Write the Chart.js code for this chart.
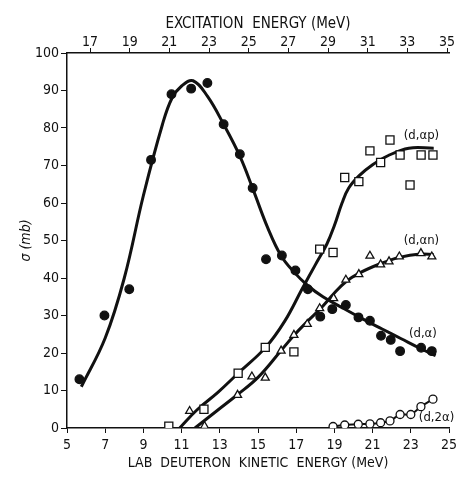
<!DOCTYPE html>
<html>
<head>
<meta charset="utf-8">
<script src="https://cdn.jsdelivr.net/npm/chart.js@4/dist/chart.umd.min.js"></script>
<style>
  body { margin: 0; background: #fff; }
  #wrap { width: 458px; height: 479px; }
</style>
</head>
<body>
<div id="wrap"><canvas id="chart"></canvas></div>
<script>
// axis ticks
const labTicks = [5, 7, 9, 11, 13, 15, 17, 19, 21, 23, 25];
const excTicks = [17, 19, 21, 23, 25, 27, 29, 31, 33, 35];
const excRange = [15.84, 35.1]; // excitation energy at lab 5 and 25 MeV

// measured points [lab energy, sigma]
const dAlpha = [[5.65, 13], [6.96, 30], [8.26, 37], [9.4, 71.5], [10.47, 89], [11.5, 90.5],
  [12.35, 92], [13.2, 81], [14.05, 73], [14.72, 64], [15.42, 45], [16.25, 46], [16.96, 42],
  [17.61, 37], [18.26, 29.7], [18.89, 31.7], [19.6, 32.8], [20.26, 29.5], [20.86, 28.6],
  [21.44, 24.6], [21.95, 23.5], [22.44, 20.5], [23.54, 21.4], [24.1, 20.5]];
const dAlphaP = [[10.33, 0.5], [12.17, 5], [13.96, 14.6], [15.38, 21.5], [16.88, 20.3],
  [18.23, 47.7], [18.93, 46.8], [19.54, 66.8], [20.28, 65.7], [20.86, 73.9], [21.42, 70.8],
  [21.91, 76.8], [22.44, 72.8], [22.96, 64.8], [23.54, 72.8], [24.16, 72.8]];
const dAlphaN = [[11.42, 4.5], [12.2, 0.5], [13.93, 8.8], [14.68, 13.7], [15.38, 13.4],
  [16.21, 20.6], [16.88, 24.8], [17.58, 27.7], [18.23, 31.9], [18.96, 34.6], [19.6, 39.5],
  [20.28, 41], [20.86, 45.9], [21.42, 43.6], [21.86, 44.4], [22.4, 45.7], [23.53, 46.6],
  [24.1, 45.7]];
const d2Alpha = [[18.93, 0.4], [19.54, 0.8], [20.25, 1.0], [20.86, 1.1], [21.42, 1.4],
  [21.91, 1.9], [22.44, 3.6], [23.0, 3.6], [23.53, 5.7], [24.16, 7.7]];

// hand-drawn fitted curves
const curveAlpha = [[5.75, 11], [7, 24], [8, 40], [9, 62], [10, 81], [10.5, 88], [11, 91.2],
  [11.6, 92.6], [12.35, 88.5], [13.2, 81], [14.05, 72.5], [14.75, 63.5], [15.5, 53.5],
  [16.2, 46], [16.9, 41.5], [17.6, 38], [18.4, 35], [19.4, 32.1], [20.4, 29.3], [21.5, 26.4],
  [22.5, 23.8], [23.5, 21.2], [24.3, 19.3]];
const curveAlphaP = [[10.9, 0], [11.8, 4.8], [12.9, 9.5], [13.96, 14.6], [15.4, 21.5],
  [16.4, 28.5], [17.3, 37], [18, 43.5], [18.6, 49], [19, 54], [19.4, 60], [19.75, 64],
  [20.3, 67.3], [21, 70.2], [21.8, 72.6], [22.9, 74.6], [24.2, 74.6]];
const curveAlphaN = [[11.7, 0], [12.9, 4.8], [13.9, 8.8], [15, 13.5], [16.2, 20.6],
  [16.9, 24.8], [17.6, 28.5], [18.3, 32], [19, 36], [19.6, 39], [20.3, 41.3], [21.4, 43.8],
  [22.4, 45.5], [23.5, 46.4], [24.2, 46.2]];

// curve labels [text, lab energy, sigma]
const curveLabels = [['(d,\u03b1p)', 22.63, 78], ['(d,\u03b1n)', 22.63, 50],
  ['(d,\u03b1)', 22.9, 25.3], ['(d,2\u03b1)', 23.42, 2.7]];

const pts = arr => arr.map(p => ({ x: p[0], y: p[1] }));
const font = 'DejaVu Sans Condensed, DejaVu Sans, sans-serif';
const ink = '#111';

function curve(data) {
  return { data: pts(data), showLine: true, pointRadius: 0, borderColor: ink,
    borderWidth: 3, tension: 0.4, order: 2 };
}
function marks(data, style, r, filled) {
  return { data: pts(data), showLine: false, pointStyle: style, pointRadius: r,
    pointBorderColor: ink, pointBackgroundColor: filled ? ink : '#fff',
    pointBorderWidth: 1.3, order: 1 };
}
function noSidePad(s, h) {
  s.height = h;
  s.paddingLeft = 0;
  s.paddingRight = 0;
}

const labelPlugin = {
  id: 'curveLabels',
  afterDatasetsDraw(chart) {
    const { ctx, scales } = chart;
    ctx.save();
    ctx.fillStyle = ink;
    ctx.font = '13px ' + font;
    ctx.textBaseline = 'middle';
    curveLabels.forEach(l => {
      ctx.fillText(l[0], scales.x.getPixelForValue(l[1]), scales.y.getPixelForValue(l[2]));
    });
    ctx.restore();
  }
};

const twoAlpha = marks(d2Alpha, 'circle', 4, false);
twoAlpha.showLine = true;
twoAlpha.borderColor = ink;
twoAlpha.borderWidth = 2;
twoAlpha.tension = 0.3;

new Chart(document.getElementById('chart'), {
  type: 'scatter',
  data: {
    datasets: [
      curve(curveAlpha), curve(curveAlphaP), curve(curveAlphaN),
      marks(dAlpha, 'circle', 4.3, true),
      marks(dAlphaP, 'rect', 5.7, false),
      marks(dAlphaN, 'triangle', 4.6, false),
      twoAlpha
    ]
  },
  options: {
    responsive: true,
    maintainAspectRatio: false,
    animation: false,
    layout: { padding: { right: 9 } },
    plugins: { legend: { display: false }, tooltip: { enabled: false } },
    scales: {
      x: {
        type: 'linear', position: 'bottom', min: 5, max: 25,
        afterBuildTicks: s => { s.ticks = labTicks.map(v => ({ value: v })); },
        afterFit: s => noSidePad(s, 51),
        border: { color: ink, width: 1.5 },
        grid: { drawOnChartArea: false, tickLength: 5, color: ink },
        ticks: { color: ink, font: { family: font, size: 14 }, padding: 4, maxRotation: 0 },
        title: { display: true, text: 'LAB  DEUTERON  KINETIC  ENERGY (MeV)', color: ink,
          font: { family: font, size: 14 }, padding: { top: 2, bottom: 7 } }
      },
      top: {
        type: 'linear', position: 'top', min: excRange[0], max: excRange[1],
        afterBuildTicks: s => { s.ticks = excTicks.map(v => ({ value: v })); },
        afterFit: s => noSidePad(s, 53),
        border: { color: ink, width: 1.5 },
        grid: { drawOnChartArea: false, tickLength: 5, color: ink },
        ticks: { color: ink, font: { family: font, size: 14 }, padding: -3, maxRotation: 0 },
        title: { display: true, text: 'EXCITATION  ENERGY (MeV)', color: ink,
          font: { family: font, size: 15 }, padding: { top: 15, bottom: 0 } }
      },
      y: {
        type: 'linear', min: 0, max: 100,
        afterFit: s => { s.width = 67; },
        border: { color: ink, width: 1.5 },
        grid: { drawOnChartArea: false, tickLength: 6, color: ink },
        ticks: { stepSize: 10, color: ink, font: { family: font, size: 14 }, padding: 2 },
        title: { display: true, text: '\u03c3 (mb)', color: ink,
          font: { family: font, size: 14, style: 'italic' }, padding: { top: 18, bottom: 0 } }
      }
    }
  },
  plugins: [labelPlugin]
});
</script>
</body>
</html>
